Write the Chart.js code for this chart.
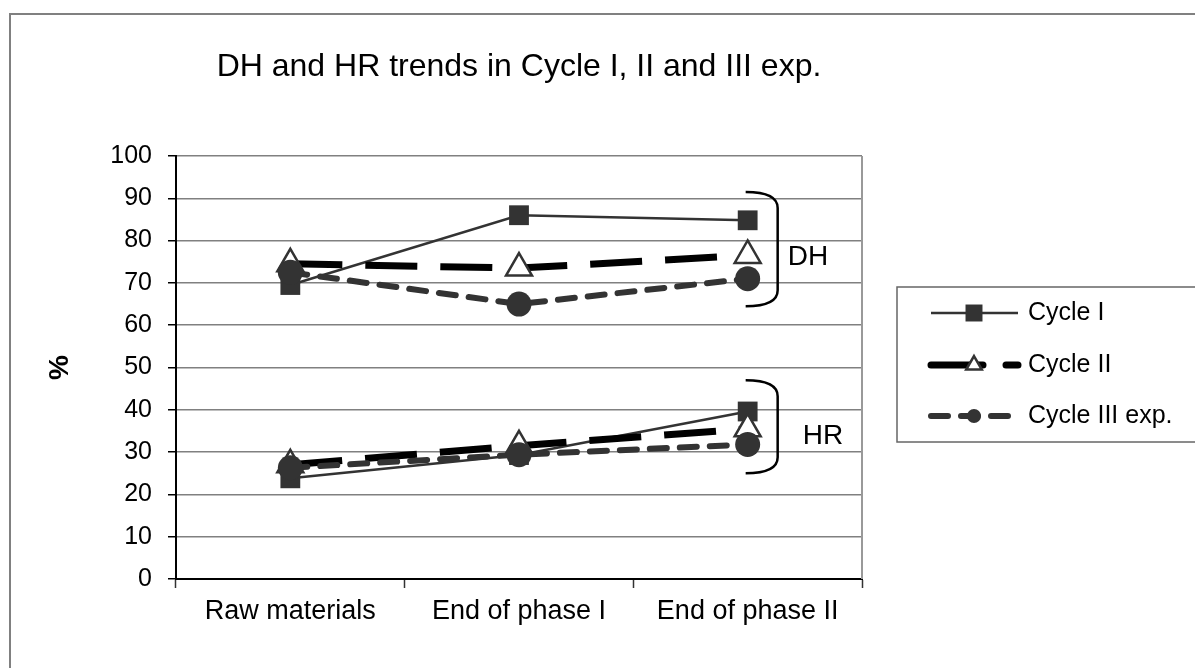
<!DOCTYPE html>
<html>
<head>
<meta charset="utf-8">
<script src="https://cdn.jsdelivr.net/npm/chart.js@4/dist/chart.umd.min.js"></script>
<style>
  html, body { margin: 0; padding: 0; background: #fff; overflow: hidden; }
  #wrap { position: relative; width: 1195px; height: 668px; }
  #frame { position: absolute; left: 9px; top: 13px; width: 1300px; height: 800px; border: 2px solid #808080; box-sizing: border-box; }
  canvas { position: absolute; left: 0; top: 0; }
</style>
</head>
<body>
<div id="wrap">
  <div id="frame"></div>
  <canvas id="chart" width="1195" height="668"></canvas>
</div>
<script>
// data
const categories = ['Raw materials', 'End of phase I', 'End of phase II'];
const cycleIDH = [69.5, 86, 84.8];
const cycleIIDH = [74.5, 73.5, 76.5];
const cycleIIIDH = [72.5, 65, 71];
const cycleIHR = [23.8, 29.3, 39.6];
const cycleIIHR = [27, 31.5, 35.5];
const cycleIIIHR = [26.3, 29.4, 31.8];
const seriesNames = ['Cycle I', 'Cycle II', 'Cycle III exp.'];
const groupNames = ['DH', 'HR'];
const dhRange = [64.5, 91.5];
const hrRange = [25, 47];
const groupLabelValues = [76, 33.8];

const FONT = "'Liberation Sans', Arial, sans-serif";

const styleI = {
    borderColor: '#333', borderWidth: 2.5,
    pointStyle: 'rect', pointRadius: 14, pointBackgroundColor: '#333', pointBorderWidth: 0,
    order: 3
};
const styleII = {
    borderColor: '#000', borderWidth: 7, borderDash: [52, 23],
    pointStyle: 'triangle', pointRadius: 15, pointBackgroundColor: '#fff',
    pointBorderColor: '#333', pointBorderWidth: 2.5,
    order: 2
};
const styleIII = {
    borderColor: '#333', borderWidth: 6, borderDash: [17, 13], borderCapStyle: 'round',
    pointStyle: 'circle', pointRadius: 12.5, pointBackgroundColor: '#333', pointBorderWidth: 0,
    order: 1
};

function series(label, data, style) {
    return Object.assign({ label: label, data: data, fill: false, tension: 0, pointHoverRadius: style.pointRadius }, style);
}

function drawMarker(ctx, style, r, cx, cy) {
    if (style === 'rect') {
        const s = r * Math.SQRT1_2;
        ctx.rect(cx - s, cy - s, 2 * s, 2 * s);
    } else if (style === 'triangle') {
        ctx.moveTo(cx, cy - r);
        ctx.lineTo(cx + r * Math.sin(2 * Math.PI / 3), cy - r * Math.cos(2 * Math.PI / 3));
        ctx.lineTo(cx + r * Math.sin(4 * Math.PI / 3), cy - r * Math.cos(4 * Math.PI / 3));
        ctx.closePath();
    } else {
        ctx.arc(cx, cy, r, 0, Math.PI * 2);
    }
}

// brackets, group labels, right border and legend
const extras = {
    id: 'extras',
    afterDraw(chart) {
        const ctx = chart.ctx;
        const x = chart.scales.x, y = chart.scales.y;
        const area = chart.chartArea;
        ctx.save();

        // right border of plot
        ctx.strokeStyle = '#999';
        ctx.lineWidth = 2;
        ctx.beginPath();
        ctx.moveTo(area.right, area.top);
        ctx.lineTo(area.right, area.bottom);
        ctx.stroke();

        // brackets
        const bx = x.getPixelForValue(2) + 30;
        const bx0 = x.getPixelForValue(2) - 2;
        [dhRange, hrRange].forEach(function (r) {
            const top = y.getPixelForValue(r[1]);
            const bot = y.getPixelForValue(r[0]);
            ctx.strokeStyle = '#000';
            ctx.lineWidth = 2.5;
            ctx.beginPath();
            ctx.moveTo(bx0, top);
            ctx.quadraticCurveTo(bx, top, bx, top + 16);
            ctx.lineTo(bx, bot - 16);
            ctx.quadraticCurveTo(bx, bot, bx0, bot);
            ctx.stroke();
        });

        ctx.fillStyle = '#000';
        ctx.font = '28px ' + FONT;
        ctx.textBaseline = 'middle';
        ctx.textAlign = 'left';
        ctx.fillText(groupNames[0], bx + 10, y.getPixelForValue(groupLabelValues[0]));
        ctx.fillText(groupNames[1], bx + 25, y.getPixelForValue(groupLabelValues[1]));

        // legend
        const lx = 897, ly = 287, lh = 155;
        ctx.strokeStyle = '#666';
        ctx.lineWidth = 1.5;
        ctx.strokeRect(lx, ly, 400, lh);
        const rows = [313, 365, 416];
        const markerSizes = [12, 9, 7];
        for (let i = 0; i < 3; i++) {
            const ds = chart.data.datasets[i];
            const yy = rows[i];
            ctx.save();
            ctx.strokeStyle = ds.borderColor;
            ctx.lineWidth = ds.borderWidth;
            ctx.lineCap = i === 0 ? 'butt' : 'round';
            ctx.setLineDash(ds.borderDash || []);
            ctx.beginPath();
            ctx.moveTo(931, yy);
            ctx.lineTo(1018, yy);
            ctx.stroke();
            ctx.restore();
            ctx.fillStyle = ds.pointBackgroundColor;
            ctx.strokeStyle = ds.pointBorderColor || ds.borderColor;
            ctx.lineWidth = ds.pointBorderWidth;
            ctx.beginPath();
            drawMarker(ctx, ds.pointStyle, markerSizes[i], 974, yy);
            ctx.fill();
            if (ds.pointBorderWidth) ctx.stroke();
            ctx.fillStyle = '#000';
            ctx.font = '25px ' + FONT;
            ctx.fillText(ds.label, 1028, yy);
        }
        ctx.restore();
    }
};

new Chart(document.getElementById('chart').getContext('2d'), {
    type: 'line',
    data: {
        labels: categories,
        datasets: [
            series(seriesNames[0], cycleIDH, styleI),
            series(seriesNames[1], cycleIIDH, styleII),
            series(seriesNames[2], cycleIIIDH, styleIII),
            series(seriesNames[0], cycleIHR, styleI),
            series(seriesNames[1], cycleIIHR, styleII),
            series(seriesNames[2], cycleIIIHR, styleIII)
        ]
    },
    options: {
        responsive: false,
        animation: false,
        layout: { padding: { left: 0, right: 333, top: 0, bottom: 0 } },
        plugins: {
            legend: { display: false },
            tooltip: { enabled: false },
            title: {
                display: true,
                fullSize: false,
                text: 'DH and HR trends in Cycle I, II and III exp.',
                color: '#000',
                font: { family: FONT, size: 32, weight: 'normal', lineHeight: 1.2 },
                padding: { top: 48, bottom: 69.6 }
            }
        },
        scales: {
            x: {
                offset: true,
                grid: { offset: true, drawOnChartArea: false, tickLength: 9, tickColor: '#333', tickWidth: 1.5 },
                border: { color: '#000', width: 2 },
                ticks: { color: '#000', font: { family: FONT, size: 27 }, padding: 7, maxRotation: 0 },
                afterFit: function (s) { s.height = 89; }
            },
            y: {
                min: 0, max: 100,
                ticks: { stepSize: 10, color: '#000', font: { family: FONT, size: 25 }, padding: 16 },
                grid: { color: '#808080', lineWidth: 1.5, tickLength: 8, tickColor: '#000', tickWidth: 1.5 },
                border: { color: '#000', width: 2 },
                title: { display: true, text: '%', color: '#000', font: { family: FONT, size: 28, weight: 'bold' }, padding: { top: 43, bottom: 0 } },
                afterFit: function (s) { s.width = 176; }
            }
        }
    },
    plugins: [extras]
});
</script>
</body>
</html>
